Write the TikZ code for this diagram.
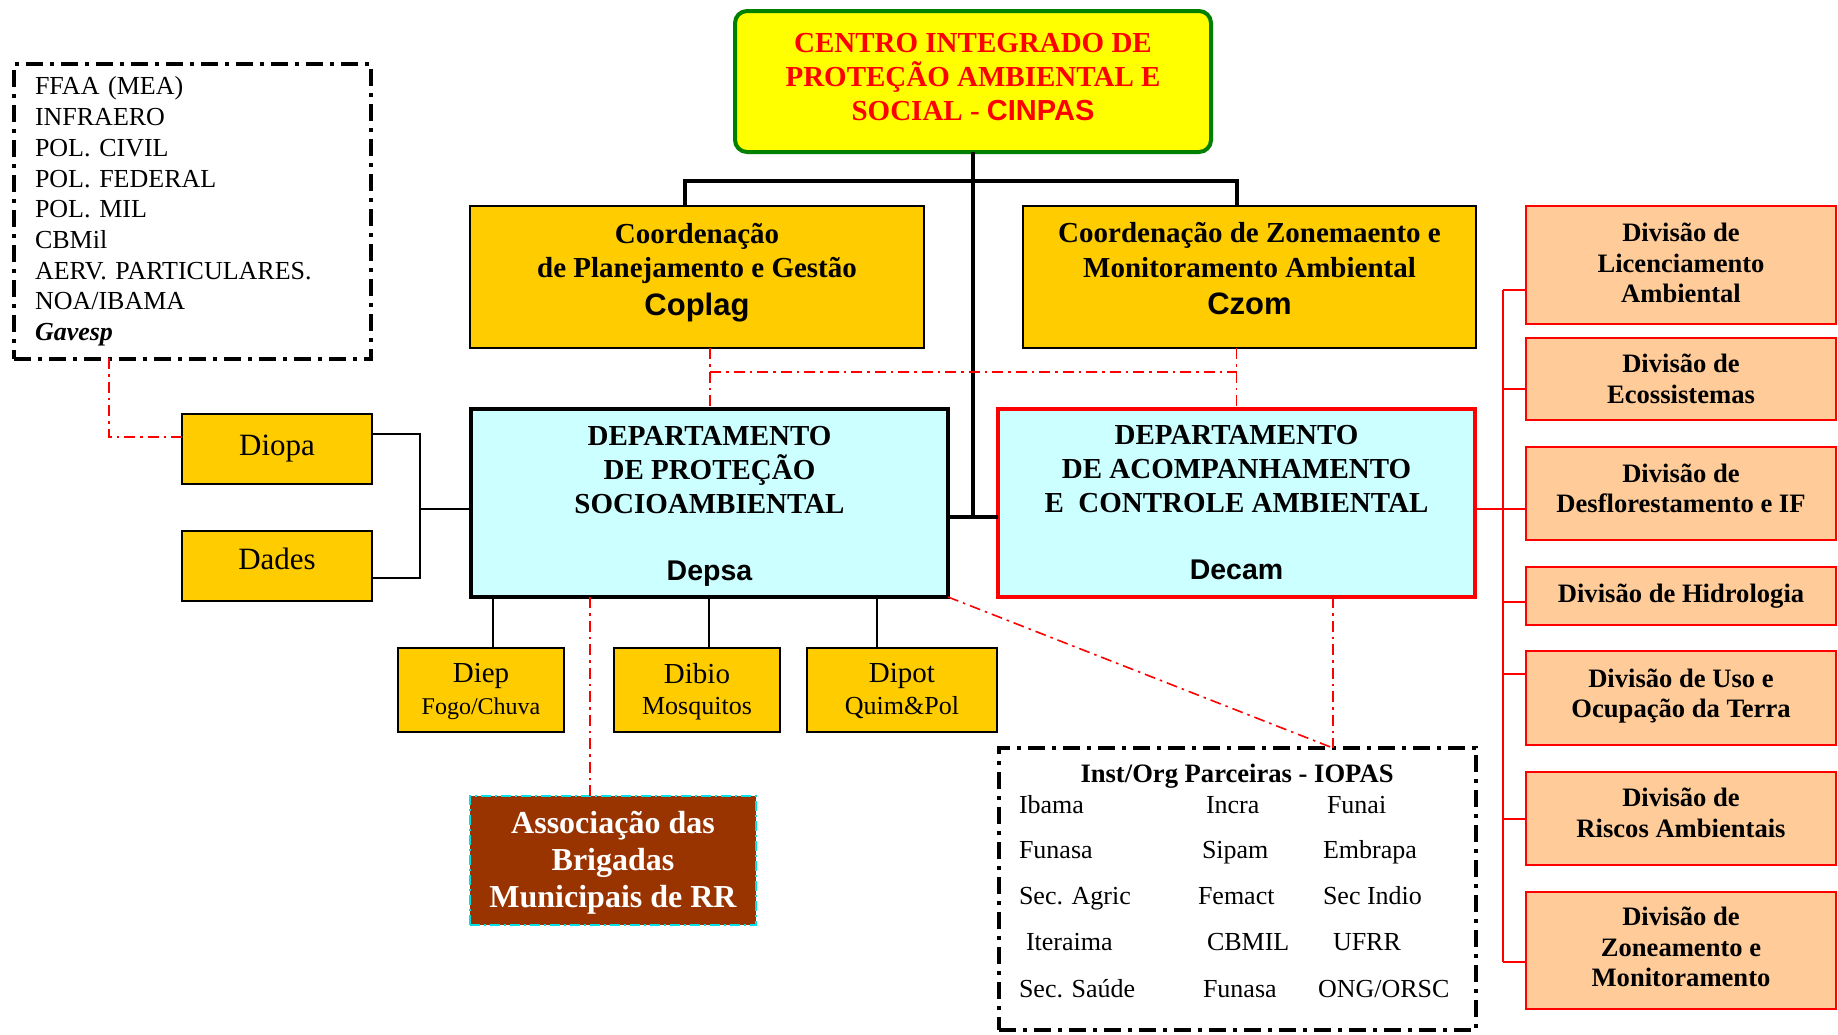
\documentclass[tikz,border=0pt]{standalone}
\usepackage{fontspec}
\setmainfont{Liberation Serif}
\setsansfont{Liberation Sans}
\usetikzlibrary{calc}

\newcommand{\sizept}[2]{\fontsize{#1}{#2}\selectfont}

\definecolor{sunYellow}{HTML}{FFFF00}
\definecolor{gold}{HTML}{FFCC00}
\definecolor{paleCyan}{HTML}{CCFFFF}
\definecolor{peach}{HTML}{FFCC99}
\definecolor{brick}{HTML}{993300}
\definecolor{leaf}{HTML}{008000}
\definecolor{aqua}{HTML}{00E0E8}

\tikzset{
  panel/.style={align=center, inner sep=0pt, outer sep=0pt},
  goldbox/.style={panel, draw=black, fill=gold, line width=1.8pt},
  deptbox/.style={panel, fill=paleCyan, line width=4pt, minimum width=477, minimum height=188,
    font=\bfseries\sizept{29}{34}},
  divbox/.style={panel, draw=red, fill=peach, line width=2pt, minimum width=310,
    font=\bfseries\sizept{26.6}{30.5}},
  dashframe/.style={draw=black, line width=4pt, dash pattern=on 17pt off 7pt on 4pt off 7pt,
    inner sep=0pt, outer sep=0pt},
  item/.style={anchor=base west, inner sep=0pt, outer sep=0pt, font=\sizept{26}{30}},
  trunk/.style={draw=black, line width=3.5pt},
  twig/.style={draw=black, line width=2pt},
  redlink/.style={draw=red, line width=1.6pt, dash pattern=on 11pt off 5pt on 2.5pt off 5pt},
  redtree/.style={draw=red, line width=2pt},
}

\begin{document}
\begin{tikzpicture}[x=1pt, y=-1pt]
\useasboundingbox (0,0) rectangle (1838,1034);

% ---------- top centre ----------
\node[panel, draw=leaf, fill=sunYellow, line width=4pt, rounded corners=12pt,
      minimum width=476, minimum height=141, text=red, font=\bfseries\sizept{29}{34},
      text depth=9pt] (cinpas) at (973,81.5)
  {CENTRO INTEGRADO DE\\PROTEÇÃO AMBIENTAL E\\SOCIAL - {\sffamily CINPAS}};

% ---------- coordinations ----------
\node[goldbox, minimum width=454, minimum height=142, font=\bfseries\sizept{29}{34.5},
      text depth=16pt] (coplag) at (697,277)
  {Coordenação\\de Planejamento e Gestão\\[3pt]{\sffamily\sizept{31}{34.5}Coplag}};
\node[goldbox, minimum width=453, minimum height=142, font=\bfseries\sizept{29}{34.5},
      text depth=17pt] (czom) at (1249.5,277)
  {Coordenação de Zonemaento e\\Monitoramento Ambiental\\[3pt]{\sffamily\sizept{31}{34.5}Czom}};

% ---------- departments ----------
\node[deptbox, draw=black, text depth=0pt] (depsa) at (709.5,503)
  {DEPARTAMENTO\\DE PROTEÇÃO\\SOCIOAMBIENTAL\\[33pt]{\sffamily\sizept{28.5}{34}Depsa}};
\node[deptbox, draw=red] (decam) at (1236.5,503)
  {DEPARTAMENTO\\DE ACOMPANHAMENTO\\E\ \ CONTROLE AMBIENTAL\\[33pt]{\sffamily\sizept{28.5}{34}Decam}};

% ---------- left side ----------
\node[dashframe, minimum width=357, minimum height=295, text width=315pt, align=left,
      font=\sizept{26}{30.7}] (listbox) at (192.5,211.5)
  {FFAA (MEA)\\INFRAERO\\POL. CIVIL\\POL. FEDERAL\\POL. MIL\\CBMil\\AERV. PARTICULARES.\\NOA/IBAMA\\\textbf{\textit{Gavesp}}};

\node[goldbox, minimum width=190, minimum height=70, font=\sizept{31}{34}] (diopa) at (277,449) {Diopa};
\node[goldbox, minimum width=190, minimum height=70, font=\sizept{31}{34}, text depth=15pt] (dades) at (277,566) {Dades};

% ---------- Depsa divisions ----------
\node[goldbox, minimum width=166, minimum height=84, font=\sizept{29}{31.5}, text depth=2pt] (diep) at (481,690)
  {Diep\\{\sizept{24}{31.5}Fogo/Chuva}};
\node[goldbox, minimum width=166, minimum height=84, font=\sizept{29}{31.5}, text depth=2pt] (dibio) at (697,690)
  {Dibio\\{\sizept{26}{31.5}Mosquitos}};
\node[goldbox, minimum width=190, minimum height=84, font=\sizept{29}{31.5}, text depth=2pt] (dipot) at (902,690)
  {Dipot\\{\sizept{26}{31.5}Quim\&Pol}};

\node[panel, fill=brick, draw=aqua, line width=2pt, dash pattern=on 10pt off 4pt on 2pt off 4pt,
      minimum width=286, minimum height=129, text=white, font=\bfseries\sizept{32}{37},
      text depth=2pt] (assoc) at (613,860.5)
  {Associação das\\Brigadas\\Municipais de RR};

% ---------- partner institutions ----------
\node[dashframe, minimum width=477, minimum height=282] (iopas) at (1237.5,889) {};
\node[anchor=base, inner sep=0pt, font=\bfseries\sizept{26.6}{30}] (iotitle) at (1237,782) {Inst/Org Parceiras - IOPAS};
\node[item] (io11) at (1019,813) {Ibama};
\node[item] (io12) at (1206,813) {Incra};
\node[item] (io13) at (1327,813) {Funai};
\node[item] (io21) at (1019,858) {Funasa};
\node[item] (io22) at (1202,858) {Sipam};
\node[item] (io23) at (1323,858) {Embrapa};
\node[item] (io31) at (1019,904) {Sec. Agric};
\node[item] (io32) at (1198,904) {Femact};
\node[item] (io33) at (1323,904) {Sec Indio};
\node[item] (io41) at (1026,950) {Iteraima};
\node[item] (io42) at (1207,950) {CBMIL};
\node[item] (io43) at (1333,950) {UFRR};
\node[item] (io51) at (1019,997) {Sec. Saúde};
\node[item] (io52) at (1203,997) {Funasa};
\node[item] (io53) at (1318,997) {ONG/ORSC};

% ---------- Decam divisions ----------
\node[divbox, minimum height=118, text depth=4pt] (d1) at (1681,265) {Divisão de\\Licenciamento\\Ambiental};
\node[divbox, minimum height=82] (d2) at (1681,379) {Divisão de\\Ecossistemas};
\node[divbox, minimum height=93, text depth=11pt] (d3) at (1681,493.5) {Divisão de\\Desflorestamento e IF};
\node[divbox, minimum height=58] (d4) at (1681,596) {Divisão de Hidrologia};
\node[divbox, minimum height=94, text depth=10pt] (d5) at (1681,698) {Divisão de Uso e\\Ocupação da Terra};
\node[divbox, minimum height=93, text depth=12pt] (d6) at (1681,818.5) {Divisão de\\Riscos Ambientais};
\node[divbox, minimum height=117, text depth=7pt] (d7) at (1681,950.5) {Divisão de\\Zoneamento e\\Monitoramento};

% ---------- hierarchy lines ----------
\coordinate (bar) at ([yshift=-29pt]cinpas.south);
\coordinate (cpl) at ([xshift=-12pt]coplag.north);
\coordinate (czm) at ([xshift=-12.5pt]czom.north);
\draw[trunk] (cpl) -- (cpl |- bar) -- (czm |- bar) -- (czm);
\coordinate (hub) at ([yshift=-14pt]depsa.east);
\draw[trunk] (cinpas.south) -- (cinpas.south |- hub);
\draw[trunk] (hub) -- (hub -| decam.west);

% Diopa / Dades bracket
\coordinate (brk) at ([xshift=48pt]diopa.east);
\coordinate (dpa) at ([yshift=15pt]diopa.east);
\coordinate (dds) at ([yshift=-12pt]dades.east);
\coordinate (dps) at ([yshift=-6pt]depsa.west);
\draw[twig] (dpa) -- (brk |- dpa) -- (brk |- dds) -- (dds);
\draw[twig] (brk |- dps) -- (dps);

% Depsa children
\coordinate (k1) at ([xshift=12pt]diep.north);
\coordinate (k2) at ([xshift=12pt]dibio.north);
\coordinate (k3) at ([xshift=-25pt]dipot.north);
\foreach \k in {k1,k2,k3} \draw[twig] (\k |- depsa.south) -- (\k);

% Decam divisions tree
\coordinate (spine) at ([xshift=-23pt]d1.west);
\coordinate (b1) at ([yshift=-25pt]d1.west);
\coordinate (b2) at ([yshift=-10pt]d2.west);
\coordinate (b3) at ([yshift=-15.5pt]d3.west);
\coordinate (b4) at ([yshift=-6pt]d4.west);
\coordinate (b5) at ([yshift=24pt]d5.west);
\coordinate (b6) at (d6.west);
\coordinate (b7) at ([yshift=-11.5pt]d7.west);
\draw[redtree] (spine |- b1) -- (spine |- b7);
\foreach \b in {b1,b2,b3,b4,b5,b6,b7} \draw[redtree] (spine |- \b) -- (\b);
\draw[redtree] (decam.east |- b3) -- (spine |- b3);

% ---------- cooperation links ----------
\coordinate (rq1) at ([xshift=13pt]coplag.south);
\coordinate (rq2) at (decam.north |- czom.south);
\coordinate (rh) at ([yshift=-24pt]coplag.south);
\draw[redlink] (rq1) -- (rq1 |- depsa.north);
\draw[redlink] (rq2) -- (decam.north);
\draw[redlink] (rq1 |- rh) -- (rq2 |- rh);

\coordinate (lbs) at ([xshift=-83.5pt, yshift=1pt]listbox.south);
\coordinate (dpw) at ([yshift=12pt]diopa.west);
\draw[redlink] (lbs) |- (dpw);

\coordinate (as1) at ([xshift=-23pt]assoc.north);
\draw[redlink] (as1 |- depsa.south) -- (as1);

\coordinate (iot) at ([xshift=95.5pt]iopas.north);
\draw[redlink] (depsa.south east) -- (iot);
\draw[redlink] (iot |- decam.south) -- (iot);
\end{tikzpicture}
\end{document}
